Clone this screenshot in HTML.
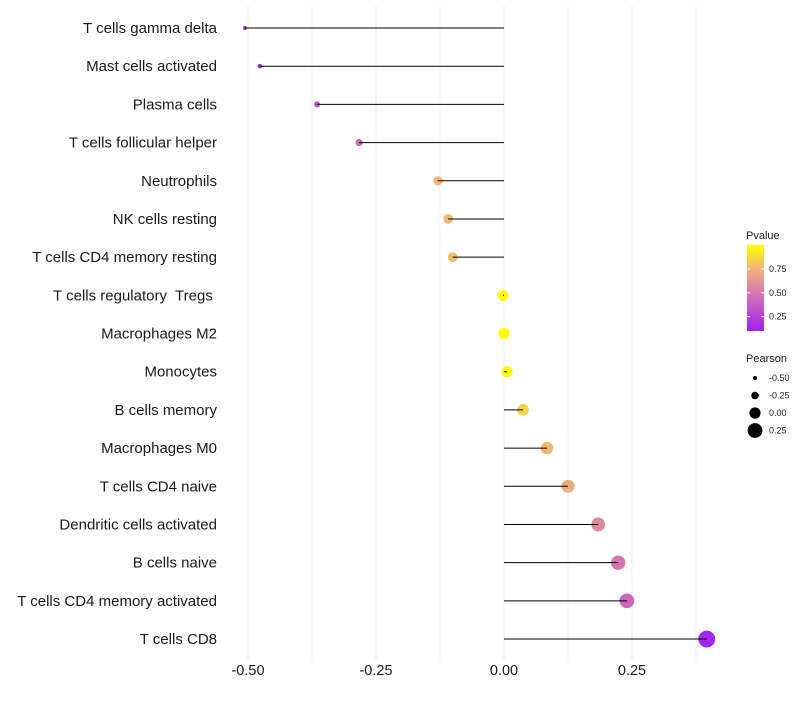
<!DOCTYPE html>
<html><head><meta charset="utf-8"><style>
body{margin:0;background:#fff;font-family:"Liberation Sans",sans-serif}
text{white-space:pre}
</style></head><body>
<svg id="c" width="800" height="700" xmlns="http://www.w3.org/2000/svg"></svg>
<script>
const categories=["T cells gamma delta","Mast cells activated","Plasma cells","T cells follicular helper","Neutrophils","NK cells resting","T cells CD4 memory resting","T cells regulatory  Tregs ","Macrophages M2","Monocytes","B cells memory","Macrophages M0","T cells CD4 naive","Dendritic cells activated","B cells naive","T cells CD4 memory activated","T cells CD8"];
const pearson=[-0.506,-0.477,-0.365,-0.283,-0.129,-0.109,-0.100,-0.002,0.0,0.006,0.037,0.084,0.125,0.184,0.223,0.240,0.396];
const pvalue=[0.12,0.12,0.28,0.42,0.75,0.76,0.78,0.98,0.99,0.97,0.85,0.76,0.72,0.58,0.48,0.42,0.12];
const xTicks=[-0.5,-0.25,0,0.25];
const xTickLabels=["-0.50","-0.25","0.00","0.25"];
const sizeLegend=[-0.5,-0.25,0,0.25];
const pTicks=[0.25,0.5,0.75];
const NS="http://www.w3.org/2000/svg";
const svg=document.getElementById('c');
const X=v=>504+v*512;
const Y=i=>28+i*38.19;
const R=v=>2+(v+0.5)*7.2;
function col(p){
 const stops=[[0.1,[160,32,240]],[0.5,[214,120,176]],[0.75,[240,180,120]],[1.0,[255,255,0]]];
 p=Math.max(0.1,Math.min(1,p));
 for(let k=0;k<stops.length-1;k++){const a=stops[k],b=stops[k+1];if(p<=b[0]){const t=(p-a[0])/(b[0]-a[0]);return 'rgb('+a[1].map((c,j)=>Math.round(c+(b[1][j]-c)*t)).join(',')+')';}}
 return 'rgb(255,255,0)';
}
function el(tag,attrs,parent){const e=document.createElementNS(NS,tag);for(const k in attrs)e.setAttribute(k,attrs[k]);(parent||svg).appendChild(e);return e;}
for(let v=-0.5;v<=0.4;v+=0.125){const g=el('line',{x1:X(v),x2:X(v),y1:5,y2:660,stroke:'#ebebeb','stroke-width':Math.abs((v*4)%1)<1e-6?1:0.6});

}
categories.forEach((c,i)=>{
 const t=el('text',{x:217,y:Y(i)+5,'text-anchor':'end','font-size':15,fill:'#1a1a1a'});t.textContent=c;
 
 
 const pt=el('circle',{cx:X(pearson[i]),cy:Y(i),r:R(pearson[i]),fill:col(pvalue[i])});
 
 
 const s=el('line',{x1:X(0),x2:X(pearson[i]),y1:Y(i),y2:Y(i),stroke:'#000','stroke-width':1});
 
 
});
xTicks.forEach((v,i)=>{const t=el('text',{x:X(v),y:675,'text-anchor':'middle','font-size':14.5,fill:'#1a1a1a'});t.textContent=xTickLabels[i];
 
 });
const lt=el('text',{x:746,y:239,'font-size':11,fill:'#1a1a1a'});lt.textContent='Pvalue';


const defs=el('defs',{});const lg=el('linearGradient',{id:'g',x1:0,y1:1,x2:0,y2:0},defs);
[0.1,0.3,0.5,0.75,1].forEach(p=>el('stop',{offset:(p-0.1)/0.9,'stop-color':col(p)},lg));
const bar=el('rect',{x:747,y:245,width:17,height:86,fill:'url(#g)'});


const PY=p=>331-(p-0.1)/0.9*86;
pTicks.forEach(p=>{el('line',{x1:747,x2:750,y1:PY(p),y2:PY(p),stroke:'#fff'});el('line',{x1:761,x2:764,y1:PY(p),y2:PY(p),stroke:'#fff'});
 const t=el('text',{x:769,y:PY(p)+3,'font-size':9,fill:'#1a1a1a'});t.textContent=p.toFixed(2);
 
 });
const st=el('text',{x:746,y:362,'font-size':11,fill:'#1a1a1a'});st.textContent='Pearson';


sizeLegend.forEach((v,i)=>{const y=378+i*17.5;
 const c=el('circle',{cx:755,cy:y,r:R(v),fill:'#000'});
 
 
 const t=el('text',{x:769,y:y+3,'font-size':9,fill:'#1a1a1a'});t.textContent=v.toFixed(2);
 
 });
</script></body></html>
